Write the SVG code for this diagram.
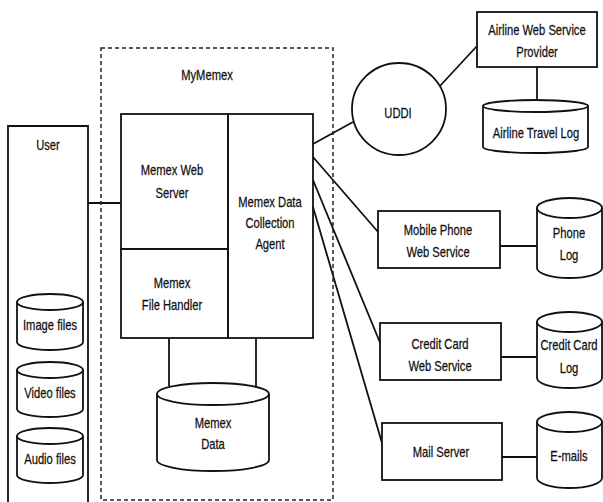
<svg xmlns="http://www.w3.org/2000/svg" width="603" height="502" viewBox="0 0 603 502">
<defs>
<style>
.s{fill:none;stroke:#111;stroke-width:1.8}
.f{fill:#fff;stroke:#111;stroke-width:1.8}
.d{fill:none;stroke:#222;stroke-width:1.5;stroke-dasharray:4 3}
text{font-family:"Liberation Sans",Arial,sans-serif;font-size:14px;fill:#111;text-anchor:middle;stroke:#111;stroke-width:0.25}
</style>
</defs>
<rect width="603" height="502" fill="#fff"/>
<g id="connectors">
<line class="s" x1="88" y1="203" x2="121" y2="203"/>
<line class="s" x1="169" y1="338" x2="169" y2="386"/>
<line class="s" x1="256" y1="338" x2="256" y2="386"/>
<line class="s" x1="313" y1="144" x2="353" y2="122"/>
<line class="s" x1="313" y1="157" x2="379" y2="233"/>
<line class="s" x1="313" y1="180" x2="381" y2="345"/>
<line class="s" x1="313" y1="207" x2="382" y2="443"/>
<line class="s" x1="439" y1="87" x2="477" y2="46"/>
<line class="s" x1="537" y1="67" x2="537" y2="100"/>
<line class="s" x1="500" y1="246" x2="537" y2="246"/>
<line class="s" x1="501" y1="357" x2="537" y2="357"/>
<line class="s" x1="502" y1="457" x2="537" y2="457"/>
</g>
<g id="mymemex">
<rect class="d" x="101" y="48" width="232" height="452"/>
<text transform="translate(207 80) scale(0.8 1)">MyMemex</text>
</g>
<g id="user">
<path class="s" d="M8 506 V126 H88 V506"/>
<text transform="translate(48 150) scale(0.8 1)">User</text>
</g>
<g id="image-files">
<path class="f" d="M17 302 V342 A33 8 0 0 0 83 342 V302"/>
<ellipse class="f" cx="50" cy="302" rx="33" ry="8"/>
<text transform="translate(50 330) scale(0.8 1)">Image files</text>
</g>
<g id="video-files">
<path class="f" d="M17 370 V409 A33 8 0 0 0 83 409 V370"/>
<ellipse class="f" cx="50" cy="370" rx="33" ry="8"/>
<text transform="translate(50 398) scale(0.8 1)">Video files</text>
</g>
<g id="audio-files">
<path class="f" d="M17 436 V475 A33 8 0 0 0 83 475 V436"/>
<ellipse class="f" cx="50" cy="436" rx="33" ry="8"/>
<text transform="translate(50 464) scale(0.8 1)">Audio files</text>
</g>
<g id="memex-web-server">
<rect class="s" x="121" y="114" width="107" height="135"/>
<text transform="translate(172 175) scale(0.8 1)">Memex Web</text>
<text transform="translate(172 198) scale(0.8 1)">Server</text>
</g>
<g id="memex-file-handler">
<rect class="s" x="121" y="249" width="107" height="89"/>
<text transform="translate(172 288) scale(0.8 1)">Memex</text>
<text transform="translate(172 310) scale(0.8 1)">File Handler</text>
</g>
<g id="memex-data-collection-agent">
<rect class="s" x="228" y="114" width="85" height="224"/>
<text transform="translate(270 207) scale(0.8 1)">Memex Data</text>
<text transform="translate(270 228) scale(0.8 1)">Collection</text>
<text transform="translate(270 249) scale(0.8 1)">Agent</text>
</g>
<g id="memex-data">
<path class="f" d="M157 394 V460 A56 11 0 0 0 269 460 V394"/>
<ellipse class="f" cx="213" cy="394" rx="56" ry="11"/>
<text transform="translate(213 428) scale(0.8 1)">Memex</text>
<text transform="translate(213 449) scale(0.8 1)">Data</text>
</g>
<g id="uddi">
<ellipse class="f" cx="399" cy="109" rx="47" ry="46"/>
<text transform="translate(398 118) scale(0.8 1)">UDDI</text>
</g>
<g id="airline-web-service-provider">
<rect class="f" x="477" y="12" width="120" height="55"/>
<text transform="translate(537 35) scale(0.8 1)">Airline Web Service</text>
<text transform="translate(537 57) scale(0.8 1)">Provider</text>
</g>
<g id="airline-travel-log">
<path class="f" d="M483 106 V147 A52.5 6 0 0 0 588 147 V106"/>
<ellipse class="f" cx="535.5" cy="106" rx="52.5" ry="6"/>
<text transform="translate(536 138) scale(0.8 1)">Airline Travel Log</text>
</g>
<g id="mobile-phone-web-service">
<rect class="f" x="378" y="211" width="122" height="57"/>
<text transform="translate(438 235) scale(0.8 1)">Mobile Phone</text>
<text transform="translate(438 257) scale(0.8 1)">Web Service</text>
</g>
<g id="phone-log">
<path class="f" d="M537 208 V268 A32.5 10 0 0 0 602 268 V208"/>
<ellipse class="f" cx="569.5" cy="208" rx="32.5" ry="10"/>
<text transform="translate(569 238) scale(0.8 1)">Phone</text>
<text transform="translate(569 260) scale(0.8 1)">Log</text>
</g>
<g id="credit-card-web-service">
<rect class="f" x="380" y="323" width="121" height="57"/>
<text transform="translate(440 349) scale(0.8 1)">Credit Card</text>
<text transform="translate(440 371) scale(0.8 1)">Web Service</text>
</g>
<g id="credit-card-log">
<path class="f" d="M537 322 V378 A32.5 10 0 0 0 602 378 V322"/>
<ellipse class="f" cx="569.5" cy="322" rx="32.5" ry="10"/>
<text transform="translate(569 350) scale(0.8 1)">Credit Card</text>
<text transform="translate(569 373) scale(0.8 1)">Log</text>
</g>
<g id="mail-server">
<rect class="f" x="382" y="423" width="120" height="57"/>
<text transform="translate(441 457) scale(0.8 1)">Mail Server</text>
</g>
<g id="e-mails">
<path class="f" d="M537 422 V478 A32.5 10 0 0 0 602 478 V422"/>
<ellipse class="f" cx="569.5" cy="422" rx="32.5" ry="10"/>
<text transform="translate(569 461) scale(0.8 1)">E-mails</text>
</g>
</svg>
